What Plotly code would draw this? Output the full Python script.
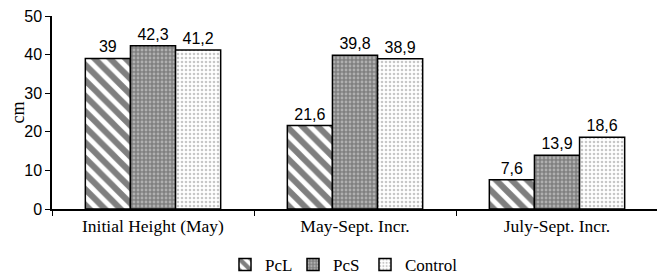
import plotly.graph_objects as go

categories = ["Initial Height (May)", "May-Sept. Incr.", "July-Sept. Incr."]
series_names = ["PcL", "PcS", "Control"]
pcl = [39.0, 21.6, 7.6]
pcs = [42.3, 39.8, 13.9]
control = [41.2, 38.9, 18.6]
y_ticks = [0, 10, 20, 30, 40, 50]

def fmt(v):
    return ("%g" % v).replace(".", ",")

styles = [
    dict(shape="\\", bgcolor="white", fgcolor="black", size=11, solidity=0.55),
    dict(shape=".", bgcolor="#808080", fgcolor="#e0e0e0", size=4, solidity=0.4),
    dict(shape=".", bgcolor="white", fgcolor="#909090", size=4, solidity=0.35),
]
legend_ids = ["legend", "legend2", "legend3"]
legend_x = [217, 285, 357]  # pixel positions inside figure

fig = go.Figure()
for name, vals, st, lid in zip(series_names, [pcl, pcs, control], styles, legend_ids):
    fig.add_trace(go.Bar(
        name=name, x=categories, y=vals, legend=lid,
        text=[fmt(v) for v in vals], textposition="outside",
        textfont=dict(family="Liberation Sans, Arial", size=16, color="black"),
        cliponaxis=False,
        marker=dict(color=st["bgcolor"], line=dict(color="black", width=1.5),
                    pattern=dict(shape=st["shape"], bgcolor=st["bgcolor"],
                                 fgcolor=st["fgcolor"], size=st["size"],
                                 solidity=st["solidity"], fillmode="overlay")),
    ))

W, H = 657, 271
leg_common = dict(orientation="h", xanchor="left", xref="container",
                  y=0.052, yanchor="middle", yref="container",
                  font=dict(family="Liberation Serif, Times New Roman", size=17, color="black"),
                  itemwidth=30, bgcolor="rgba(0,0,0,0)")

# page body has an 8px margin, so the figure is sized/offset to compensate
fig.update_layout(
    width=W, height=H,
    margin=dict(l=44, r=7, t=8, b=70, autoexpand=False),
    barmode="group", bargap=0.33, bargroupgap=0,
    plot_bgcolor="white", paper_bgcolor="white",
    showlegend=True,
    legend=dict(x=legend_x[0] / W, **leg_common),
    legend2=dict(x=legend_x[1] / W, **leg_common),
    legend3=dict(x=legend_x[2] / W, **leg_common),
    xaxis=dict(showline=True, linecolor="black", linewidth=1.5, automargin=False,
               ticks="outside", tickson="boundaries", ticklen=5, tickcolor="black",
               tickfont=dict(family="Liberation Serif, Times New Roman", size=17.5, color="black"),
               showgrid=False),
    yaxis=dict(range=[0, 50], tickvals=y_ticks, showline=True, linecolor="black", linewidth=1.5,
               automargin=False, ticklabeloverflow="allow",
               ticks="outside", ticklen=5, tickcolor="black", showgrid=False, zeroline=False,
               tickfont=dict(family="Liberation Sans, Arial", size=16, color="black"),
               title=dict(text="cm", font=dict(family="Liberation Serif, Times New Roman", size=18, color="black"), standoff=8)),
)

fig.write_html("out.html")
